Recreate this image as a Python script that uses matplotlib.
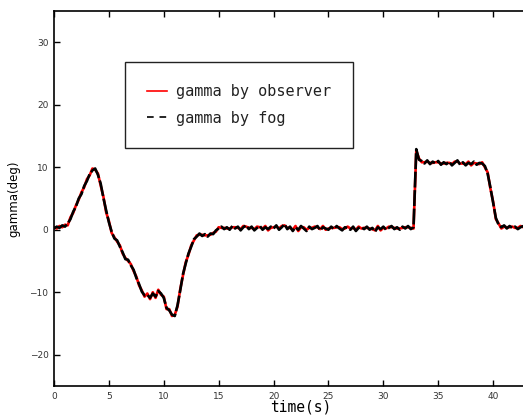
import numpy as np
import matplotlib
matplotlib.use("Agg")
import matplotlib.pyplot as plt
from matplotlib.lines import Line2D

# sampling step of the traces (s)
dt = 0.25

# gamma by fog (deg), one value every 0.25 s from t = 0
gamma_fog = [
    0.2, 0.5, 0.3, 0.7,  0.5, 1.0, 1.7, 2.9,  3.7, 5.0, 5.7, 7.0,  7.8, 8.9, 9.5, 9.8,
    8.8, 7.4, 5.1, 3.1,  1.2, -0.3, -1.4, -1.7,  -2.7, -3.6, -4.7, -4.8,  -5.7, -6.4, -7.7, -8.7,
    -9.9, -10.5, -10.4, -10.9,  -10.2, -10.7, -9.8, -10.2,  -10.9, -12.5, -12.9, -13.6,
    -13.8, -12.1, -9.7, -7.1,  -5.4, -3.8, -2.7, -1.5,  -1.1, -0.6, -1.0, -0.7,  -1.1, -0.6, -0.7, -0.1,
    0.2, 0.5, 0.1, 0.4,  0.0, 0.6, 0.2, 0.5,  -0.1, 0.4, 0.7, 0.1,  0.5, -0.1, 0.3, 0.6,
    0.0, 0.4, 0.1, 0.5,  0.2, 0.7, 0.0, 0.4,  0.9, 0.1, 0.5, -0.2,  0.4, 0.0, 0.6, 0.2,
    -0.2, 0.5, 0.1, 0.3,  0.6, -0.1, 0.4, 0.2,  0.0, 0.5, 0.1, 0.6,  0.2, -0.1, 0.4, 0.3,
    0.0, 0.5, -0.2, 0.3,  0.4, 0.1, 0.5, 0.0,  0.3, -0.3, 0.4, 0.1,  0.5, 0.0, 0.3, 0.6,
    0.1, 0.4, 0.0, 0.5,  0.2, 0.6, 0.1, 0.4,
    12.9, 11.2, 11.0, 10.6,  11.1, 10.5, 10.9, 10.6,  11.0, 10.4, 10.8, 10.5,
    10.9, 10.3, 10.7, 11.1,  10.4, 10.8, 10.3, 10.7,  10.5, 10.9, 10.4, 10.7,
    10.6, 10.2, 9.0, 6.8,  4.3, 1.9, 0.8, 0.4,  0.7, 0.2, 0.6, 0.3,  0.5, 0.1, 0.4, 0.6,
]

# gamma by observer (deg), same sampling
gamma_obs = [
    0.4, 0.2, 0.6, 0.4,  0.8, 0.7, 2.0, 2.7,  3.9, 4.8, 6.0, 6.8,  8.1, 8.7, 9.8, 9.6,
    9.0, 7.1, 5.3, 2.8,  1.4, -0.5, -1.2, -1.9,  -2.5, -3.8, -4.5, -5.0,  -5.5, -6.6, -7.5, -8.9,
    -9.7, -10.7, -10.2, -11.1,  -10.0, -10.9, -9.6, -10.4,  -10.7, -12.7, -12.7, -13.8,
    -13.6, -12.3, -9.5, -7.3,  -5.2, -4.0, -2.5, -1.7,  -0.9, -0.8, -0.8, -0.9,  -0.9, -0.8, -0.5, -0.3,
    0.4, 0.3, 0.3, 0.2,  0.2, 0.4, 0.4, 0.3,  0.1, 0.6, 0.5, 0.3,  0.3, 0.1, 0.5, 0.4,
    0.2, 0.6, -0.1, 0.3,  0.4, 0.5, 0.2, 0.6,  0.7, 0.3, 0.3, 0.0,  0.6, -0.2, 0.4, 0.4,
    0.0, 0.3, 0.3, 0.5,  0.4, 0.1, 0.6, 0.0,  0.2, 0.3, 0.3, 0.4,  0.4, 0.1, 0.2, 0.5,
    0.2, 0.3, 0.0, 0.5,  0.2, 0.3, 0.3, 0.2,  0.1, -0.1, 0.6, -0.1,  0.3, 0.2, 0.5, 0.4,
    0.3, 0.2, 0.2, 0.3,  0.4, 0.4, 0.3, 0.2,
    12.6, 11.4, 10.8, 10.8,  10.9, 10.7, 10.7, 10.8,  10.8, 10.6, 10.6, 10.7,
    10.7, 10.5, 10.9, 10.9,  10.6, 10.6, 10.5, 10.9,  10.3, 10.7, 10.6, 10.5,
    10.8, 10.0, 9.2, 6.6,  4.5, 1.7, 1.0, 0.2,  0.5, 0.4, 0.4, 0.5,  0.3, 0.3, 0.6, 0.4,
]

time = np.arange(len(gamma_fog)) * dt

fig = plt.figure(figsize=(5.23, 4.17), dpi=100)
# axes runs past the right edge of the picture (it is cropped there)
ax = fig.add_axes([54 / 523, 31 / 417, 494 / 523, 375 / 417])

ax.plot(time, gamma_obs, color="red", lw=1.9)
ax.plot(time, gamma_fog, color="black", lw=1.9, dashes=(6, 1.0))

ax.set_xlim(0, 45)
ax.set_ylim(-25, 35)
ax.set_xticks(np.arange(0, 45, 5))
ax.set_yticks([-20, -10, 0, 10, 20, 30])
ax.tick_params(direction="in", length=4, width=1, top=True, right=False,
               labelsize=6.5, labelcolor="#333333", pad=4)
for s in ax.spines.values():
    s.set_linewidth(1.2)

ax.set_xlabel("time(s)", family="DejaVu Sans Mono", fontsize=10.5, labelpad=-1)
ax.set_ylabel("gamma(deg)", fontsize=8.5)
ax.yaxis.set_label_coords(-34 / 494, 0.5)

handles = [Line2D([], [], color="red", lw=1.2),
           Line2D([], [], color="black", lw=1.2, dashes=(4, 3.5))]
leg = fig.legend(handles, ["gamma by observer", "gamma by fog"],
                 loc="upper left", bbox_to_anchor=(125 / 523, 1 - 62 / 417),
                 borderaxespad=0, fancybox=False, framealpha=1,
                 edgecolor="#222222", prop={"family": "DejaVu Sans Mono", "size": 11},
                 borderpad=1.45, labelspacing=0.75, handlelength=1.3, handletextpad=0.6)
leg.get_frame().set_linewidth(1.0)
for t in leg.get_texts():
    t.set_color("#222222")

fig.savefig("out.png", dpi=100)
